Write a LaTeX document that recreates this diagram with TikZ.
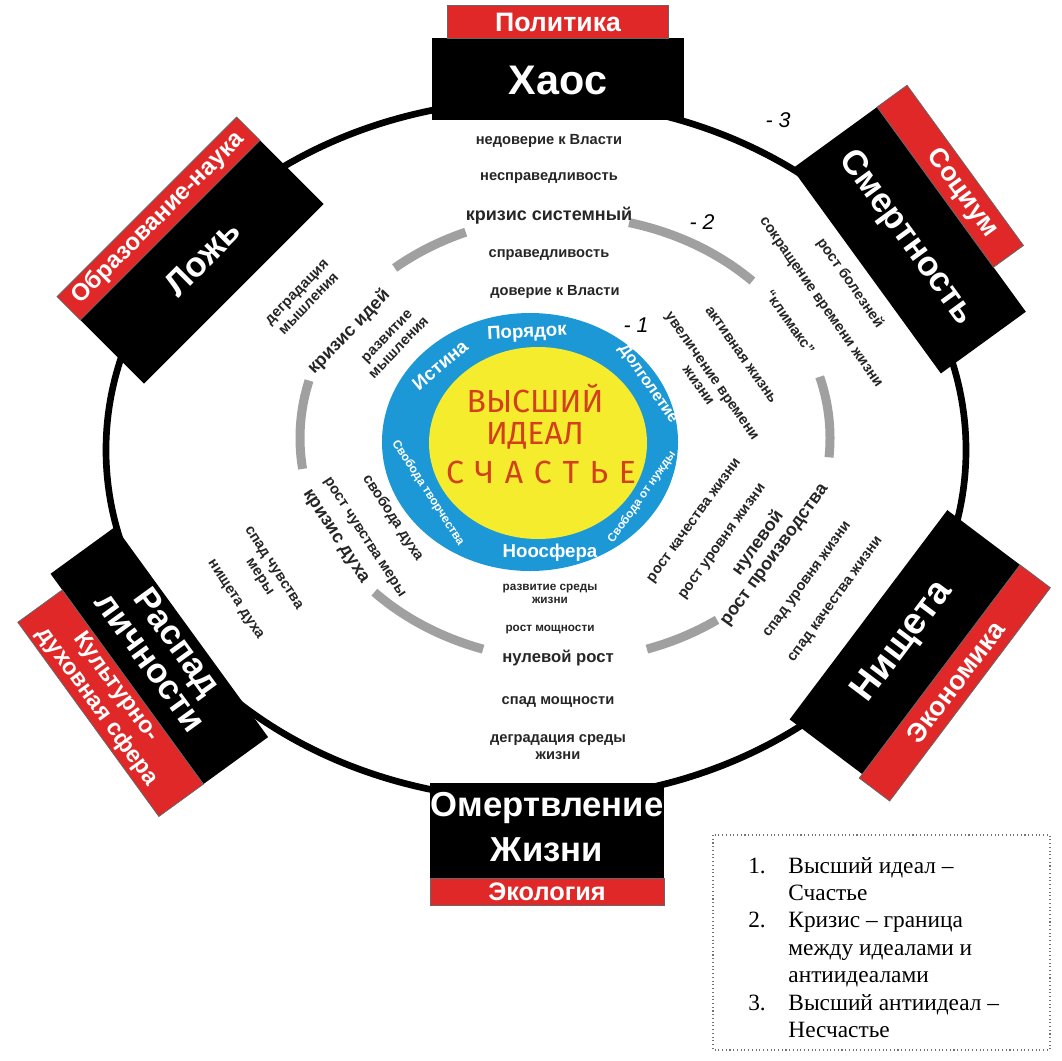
\documentclass[tikz,border=0pt]{standalone}
\usepackage{fontspec}
\setmainfont{Liberation Sans}
\newfontfamily\legendfont{Liberation Serif}
\newfontfamily\corefont{Fira Sans}
\definecolor{boxred}{RGB}{224,40,40}
\definecolor{ringblue}{RGB}{28,152,214}
\definecolor{coreyellow}{RGB}{244,236,44}
\definecolor{coretext}{RGB}{210,64,30}
\definecolor{crisisgray}{RGB}{160,160,160}
\begin{document}
\begin{tikzpicture}[x=0.75pt,y=-0.75pt,
 lbl/.style={font=\bfseries\fontsize{11}{12.5}\selectfont, align=center, inner sep=0pt, text=black!85},
 bigl/.style={font=\bfseries\fontsize{13.5}{15}\selectfont, align=center, inner sep=0pt, text=black!85},
 tinyl/.style={font=\bfseries\fontsize{8.8}{10}\selectfont, align=center, inner sep=0pt, text=black!85},
 boxlbl/.style={font=\bfseries\fontsize{26}{30}\selectfont, text=white, inner sep=0pt},
 bandlbl/.style={font=\bfseries\fontsize{20}{22}\selectfont, text=white, inner sep=0pt},
 ringlbl/.style={font=\bfseries\fontsize{14}{16}\selectfont, text=white, inner sep=0pt},
 corelbl/.style={font=\corefont\fontsize{24}{26}\selectfont, text=coretext, inner sep=0pt},
 levlbl/.style={font=\itshape\fontsize{16}{18}\selectfont, inner sep=0pt},
 redband/.style={fill=boxred, draw=black!60, line width=0.6pt},
 blackbox/.style={fill=black},
 crisis/.style={draw=crisisgray, line width=6.75pt},
]
\useasboundingbox (0,0) rectangle (1062,1060);
\fill[white] (0,0) rectangle (1062,1060);

% outer ellipse (anti-ideal ring)
\draw[line width=5pt] (536,450) ellipse [x radius=430, y radius=350];

% crisis ring (gray arcs)
\draw[crisis] plot[domain=-130:-112, samples=30] ({565+265*cos(\x)},{438+222*sin(\x)});
\draw[crisis] plot[domain=-76:-45, samples=30] ({565+265*cos(\x)},{438+222*sin(\x)});
\draw[crisis] plot[domain=-16:5, samples=30] ({565+265*cos(\x)},{438+222*sin(\x)});
\draw[crisis] plot[domain=55:72, samples=30] ({565+265*cos(\x)},{438+222*sin(\x)});
\draw[crisis] plot[domain=108:136, samples=30] ({565+265*cos(\x)},{438+222*sin(\x)});
\draw[crisis] plot[domain=172:195, samples=30] ({565+265*cos(\x)},{438+222*sin(\x)});

% core
\fill[ringblue] (530,442) ellipse [x radius=148, y radius=129];
\fill[coreyellow] (538,443) ellipse [x radius=109, y radius=96];
\node[corelbl] (c1) at (535,398) {ВЫСШИЙ};
\node[corelbl] (c2) at (535,436) {ИДЕАЛ};
\node[corelbl] (c3) at (541,472) {С\hspace{8pt}Ч\hspace{8pt}А\hspace{8pt}С\hspace{8pt}Т\hspace{8pt}Ь\hspace{8pt}Е};

% blue ring labels
\node[ringlbl, rotate=3] (p1) at (527,333) {Порядок};
\node[ringlbl, rotate=40] (p2) at (440,365) {Истина};
\node[ringlbl, rotate=-55, font=\bfseries\fontsize{12}{14}\selectfont] (p3) at (648,384) {Долголетие};
\node[ringlbl, rotate=-57, font=\bfseries\fontsize{9}{10}\selectfont] (p4) at (428,493) {Свобода творчества};
\node[ringlbl] (p5) at (550,553) {Ноосфера};
\node[ringlbl, rotate=55, font=\bfseries\fontsize{8.8}{10}\selectfont] (p6) at (642,497) {Свобода от нужды};

% top texts
\node[lbl] (t1) at (549,141) {недоверие к Власти};
\node[lbl] (t2) at (549,178) {несправедливость};
\node[bigl] (t3) at (549,216) {кризис системный};
\node[lbl] (t4) at (549,255) {справедливость};
\node[lbl] (t5) at (555,292) {доверие к Власти};

% upper-right texts
\node[lbl, rotate=-55] (r1) at (850,283) {рост болезней};
\node[lbl, rotate=-55] (r2) at (820,303) {сокращение времени жизни};
\node[lbl, rotate=-55] (r3) at (790,322) {“климакс”};
\node[lbl, rotate=-55] (r4) at (741,355) {активная жизнь};
\node[lbl, rotate=-55] (r5) at (705,381) {увеличение времени\\жизни};

% lower-right texts
\node[lbl, rotate=54] (q1) at (695,521) {рост качества жизни};
\node[lbl, rotate=54] (q2) at (723,542) {рост уровня жизни};
\node[bigl, rotate=54] (q3) at (766,549) {нулевой\\рост производства};
\node[lbl, rotate=54] (q4) at (808,580) {спад уровня жизни};
\node[lbl, rotate=54] (q5) at (836,600) {спад качества жизни};

% bottom texts
\node[tinyl] (b1) at (550,594) {развитие среды\\жизни};
\node[tinyl] (b2) at (550,630) {рост мощности};
\node[bigl, font=\bfseries\fontsize{12.5}{14}\selectfont] (b3) at (558,658) {нулевой рост};
\node[lbl] (b4) at (558,702) {спад мощности};
\node[lbl] (b5) at (558,747) {деградация среды\\жизни};

% upper-left texts
\node[lbl, rotate=46] (l1) at (303,298) {деградация\\мышления};
\node[bigl, rotate=46] (l2) at (349,332) {кризис идей};
\node[lbl, rotate=46] (l3) at (393,342) {развитие\\мышления};

% lower-left texts
\node[lbl, rotate=-57] (d1) at (393,518) {свобода духа};
\node[lbl, rotate=-57] (d2) at (364,538) {рост чувства меры};
\node[bigl, rotate=-57] (d3) at (335,537) {кризис духа};
\node[lbl, rotate=-57] (d4) at (266,573) {спад чувства\\меры};
\node[lbl, rotate=-57] (d5) at (235,600) {нищета духа};

% level marks
\node[levlbl] (m1) at (636,325) {- 1};
\node[levlbl] (m2) at (702,222) {- 2};
\node[levlbl] (m3) at (778,120) {- 3};

% ---- boxes ----
% top: Хаос / Политика
\begin{scope}[shift={(558,63)}]
 \fill[blackbox] (-126,-25) rectangle (126,57);
 \filldraw[redband] (-111,-58) rectangle (110,-25);
 \node[bandlbl] (politika) at (0,-41) {Политика};
 \node[boxlbl, font=\bfseries\fontsize{31}{34}\selectfont] (haos) at (0,17) {Хаос};
\end{scope}

% bottom: Омертвление Жизни / Экология
\begin{scope}[shift={(547,844)}]
 \fill[blackbox] (-117,-61) rectangle (117,34);
 \filldraw[redband] (-117,34) rectangle (117,61);
 \node[boxlbl] (omert) at (0,-36) {Омертвление};
 \node[boxlbl] (zhizni) at (0,6) {Жизни};
 \node[bandlbl, font=\bfseries\fontsize{19}{21}\selectfont] (ekol) at (0,48) {Экология};
\end{scope}

% upper right: Смертность / Социум
\begin{scope}[shift={(913,233)}, rotate=-54]
 \fill[blackbox] (-123,-45) rectangle (130,60);
 \filldraw[redband] (-123,-82) rectangle (75,-45);
 \node[boxlbl, rotate=-54] (smert) at (0,8) {Смертность};
 \node[bandlbl, rotate=-54] (socium) at (-3,-63) {Социум};
\end{scope}

% upper left: Ложь / Образование-наука
\begin{scope}[shift={(190,250)}, rotate=45]
 \fill[blackbox] (-127,-28) rectangle (127,62);
 \filldraw[redband] (-127,-61) rectangle (127,-28);
 \node[boxlbl, rotate=45] (lozh) at (3,14) {Ложь};
 \node[bandlbl, rotate=45, font=\bfseries\fontsize{18}{20}\selectfont] (obraz) at (0,-45) {Образование-наука};
\end{scope}

% lower left: Распад личности / Культурно-духовная сфера
\begin{scope}[shift={(131,676)}, rotate=-54]
 \fill[blackbox] (-130,-75) rectangle (130,5);
 \filldraw[redband] (-110,5) rectangle (130,60);
 \node[boxlbl, rotate=-54] (raspad) at (0,-55) {Распад};
 \node[boxlbl, rotate=-54] (lichn) at (0,-22) {личности};
 \node[bandlbl, rotate=-54, font=\bfseries\fontsize{17.5}{19}\selectfont] (kult) at (0,19) {Культурно-};
 \node[bandlbl, rotate=-54, font=\bfseries\fontsize{17.5}{19}\selectfont] (duh) at (5,45) {духовная сфера};
\end{scope}

% lower right: Нищета / Экономика
\begin{scope}[shift={(897,650)}, rotate=53]
 \fill[blackbox] (-120,-44) rectangle (142,47);
 \filldraw[redband] (-125,47) rectangle (142,85);
 \node[boxlbl, rotate=53, font=\bfseries\fontsize{28}{30}\selectfont] (nisch) at (10,0) {Нищета};
 \node[bandlbl, rotate=53] (ekon) at (10,66) {Экономика};
\end{scope}

% legend
\draw[black!55, dotted, line width=0.8pt] (713,835) rectangle (1050,1050);
\node[anchor=base west, inner sep=0pt, font=\legendfont\fontsize{17.5}{20.6}\selectfont] (legend) at (748,873)
 {\begin{tabular}[t]{@{}r@{\hspace{17pt}}l@{}}
 1. & Высший идеал –\\
    & Счастье\\
 2. & Кризис – граница\\
    & между идеалами и\\
    & антиидеалами\\
 3. & Высший антиидеал –\\
    & Несчастье
 \end{tabular}};
\end{tikzpicture}
\end{document}
